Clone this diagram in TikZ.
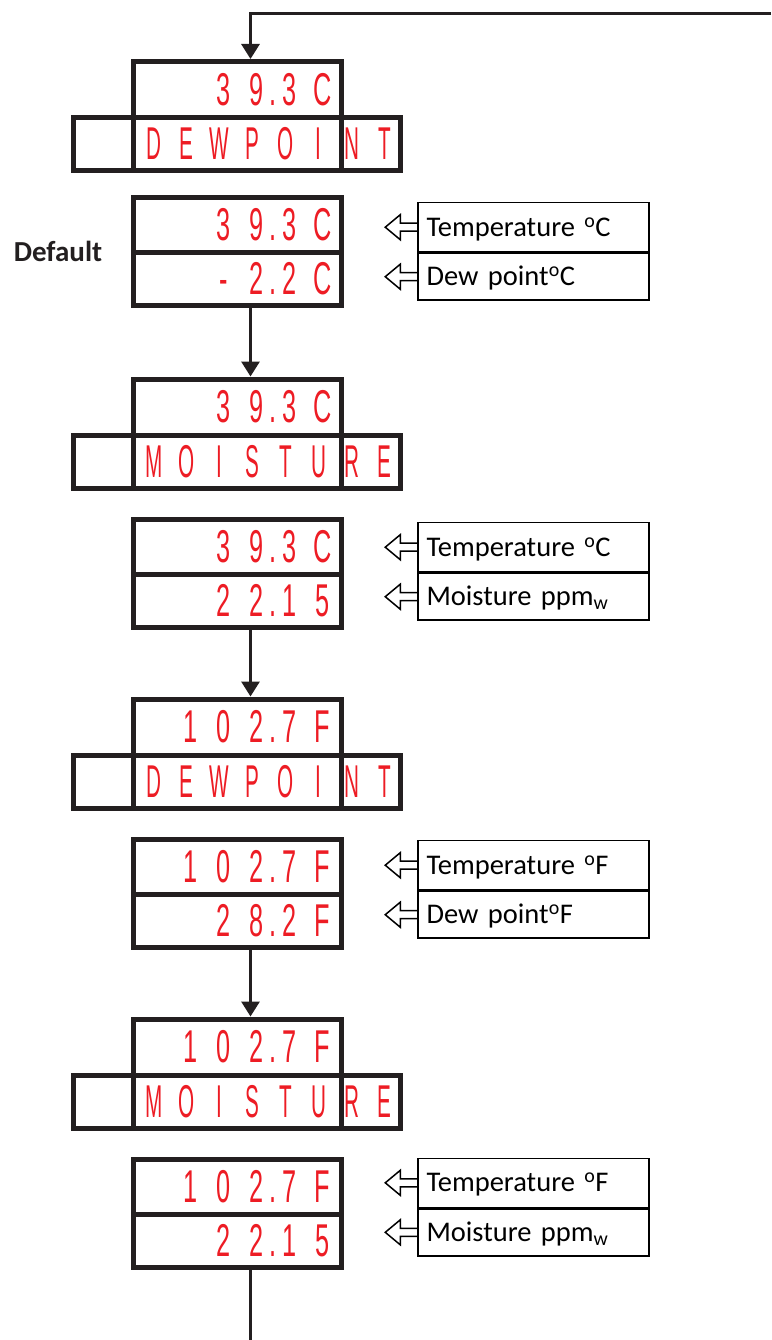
\documentclass[tikz,border=0pt]{standalone}
\usepackage{fontspec}
\setmainfont{Carlito}
\newfontfamily\segfam{Liberation Sans}
\usepackage{graphicx}
\usetikzlibrary{arrows.meta}
\usetikzlibrary{positioning}

\definecolor{segred}{RGB}{237,28,36}
\definecolor{ink}{RGB}{35,31,32}

% LED readout: one fixed cell per character, the point takes no cell
\newlength\segcell
\setlength\segcell{33pt}
\def\segsx{0.55}
\newcommand\segfont{\segfam\fontsize{46}{46}\selectfont}
\def\seg#1{\expandafter\segloop#1\relax}
\def\segloop#1{\ifx\relax#1\else
  \ifx.#1\makebox[0pt]{\scalebox{\segsx}[1]{.}}\else
  \makebox[\segcell]{\scalebox{\segsx}[1]{#1}}\fi
  \expandafter\segloop\fi}
\newcommand\segnum[1]{\makebox[204pt][r]{\seg{#1}}}
\newcommand\segword[1]{{\def\segsx{0.45}\seg{#1}}}
\newcommand\hollowtip[1]{\draw[outlinetip] ([yshift=4pt]#1.west) -- ++(-17,0)
  -- ++(0,-8.5) -- ++(-15,12.5) -- ++(15,12.5) -- ++(0,-8.5) -- ++(17,0);}

\tikzset{
  lcdbox/.style={draw=ink, line width=5pt, outer sep=0pt, inner sep=0pt,
    minimum width=208pt, minimum height=55pt, text=segred, font=\segfont},
  divider/.style={draw=ink, line width=5pt},
  segtxt/.style={inner sep=0pt, text=segred, font=\segfont},
  lblbox/.style={draw=black, line width=1.5pt, minimum width=231pt,
    minimum height=49pt, text width=214pt, inner xsep=8.5pt, inner ysep=0pt,
    align=left, text height=18pt, text depth=0pt,
    font=\fontsize{28.5}{32}\selectfont},
  flowline/.style={draw=ink, line width=3pt,
    -{Triangle[length=15pt,width=18pt]}, shorten >=2.5pt},
  outlinetip/.style={draw=black, line width=1.5pt},
}

\begin{document}
\begin{tikzpicture}[x=1pt, y=-1pt]
    \useasboundingbox (0,0) rectangle (771,1340);
    \coordinate (spine) at (250.5,0);
    \coordinate (loopR) at (771,14);
    \coordinate (tail) at (250.5,1340);

    % mode screens
    \foreach \n/\yy/\num/\word in {1/61.5/39.3C/DEWPOINT, 3/379/39.3C/MOISTURE,
        5/699/102.7F/DEWPOINT, 7/1019/102.7F/MOISTURE}{
      \node[lcdbox, minimum height=56pt] (hdrT\n) at (237,\yy+28) {\segnum{\num}};
      \node[lcdbox, minimum width=327pt, minimum height=53pt] (hdrB\n) at (237,\yy+82.5) {};
      \draw[divider] (hdrT\n.south west) -- (hdrT\n.south west |- hdrB\n.south);
      \draw[divider] (hdrT\n.south east) -- (hdrT\n.south east |- hdrB\n.south);
      \node[segtxt, anchor=west, xshift=4pt] (hdrW\n) at (hdrT\n.west |- hdrB\n.center) {\segword{\word}};
    }

    % reading screens and legends
    \foreach \n/\yy/\va/\vb/\ly/\tu/\lb in {
        2/197.5/39.3C/-2.2C/227.2/C/{Dew point\textsuperscript{o}C},
        4/519.5/39.3C/22.15/547.2/C/{Moisture ppm\textsubscript{w}},
        6/839.5/102.7F/28.2F/865.2/F/{Dew point\textsuperscript{o}F},
        8/1159/102.7F/22.15/1182.8/F/{Moisture ppm\textsubscript{w}}}{
      \node[lcdbox] (rdA\n) at (237,\yy+27.5) {\segnum{\va}};
      \node[lcdbox, minimum height=53pt] (rdB\n) at (237,\yy+81.5) {\segnum{\vb}};
      \node[lblbox] (lblA\n) at (533.5,\ly) {Temperature \textsuperscript{o}\tu};
      \node[lblbox, minimum height=47pt, below=0pt of lblA\n] (lblB\n) {\lb};
      \hollowtip{lblA\n}
      \hollowtip{lblB\n}
    }

    \node[font=\bfseries\fontsize{29}{31}\selectfont, text=ink] (dflt) at (58,251.5) {Default};

    \draw[flowline] (loopR) -- (loopR -| spine) -- (hdrT1.north -| spine);
    \draw[flowline] (rdB2.south -| spine) -- (hdrT3.north -| spine);
    \draw[flowline] (rdB4.south -| spine) -- (hdrT5.north -| spine);
    \draw[flowline] (rdB6.south -| spine) -- (hdrT7.north -| spine);
    \draw[ink, line width=3pt] (rdB8.south -| spine) -- (tail);
\end{tikzpicture}
\end{document}
